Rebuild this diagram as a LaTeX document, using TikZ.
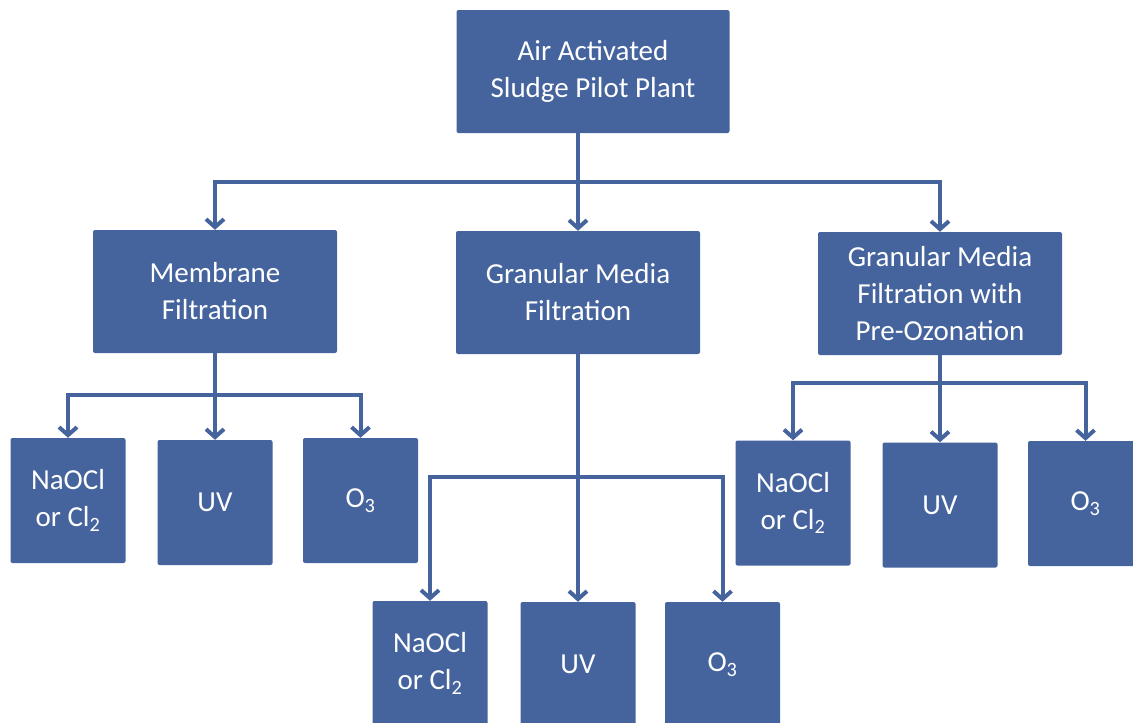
\documentclass[tikz,border=0pt]{standalone}
\usepackage{fontspec}
\setmainfont{Carlito}
\usetikzlibrary{arrows.meta}
\definecolor{boxblue}{RGB}{69,100,158}

\begin{document}
\begin{tikzpicture}[x=1pt,y=-1pt,
	box/.style={rectangle,fill=boxblue,text=white,rounded corners=2pt,
		align=center,inner sep=0pt,font=\fontsize{29}{37}\selectfont},
	link/.style={draw=boxblue,line width=4pt,
		-{Straight Barb[length=8pt,width=18pt]}}]
	\useasboundingbox (0,0) rectangle (1133,723);
	\clip (0,0) rectangle (1133,723);
	% Level 0
	\node (top) [box,minimum width=273,minimum height=123] at (593,71.5)
		{Air Activated\\Sludge Pilot Plant};
	% Level 1
	\begin{scope}[minimum width=244,minimum height=123]
	\node (m) [box] at (215,291.5) {Membrane\\Filtration};
	\node (g) [box] at (578,292.5) {Granular Media\\Filtration};
	\node (p) [box] at (940,293.5) {Granular Media\\Filtration with\\Pre-Ozonation};
	\end{scope}
	\coordinate (tj) at (578,182);
	\draw[draw=boxblue,line width=4pt] (top.south -| tj) -- (tj);
	\draw[link] (tj) -| (m.north);
	\draw[link] (tj) -- (g.north);
	\draw[link] (tj) -| (p.north);
	% Level 2
	\begin{scope}[minimum width=115,minimum height=125]
	\node (mcl) [box] at (68,500.5) {NaOCl\\or Cl\textsubscript{2}};
	\node (muv) [box] at (215,502.5) {UV};
	\node (mo3) [box] at (360.5,500.5) {O\textsubscript{3}};
	\node (gcl) [box] at (430,663.5) {NaOCl\\or Cl\textsubscript{2}};
	\node (guv) [box] at (578,664.5) {UV};
	\node (go3) [box] at (722.5,664.5) {O\textsubscript{3}};
	\node (pcl) [box] at (793,503) {NaOCl\\or Cl\textsubscript{2}};
	\node (puv) [box] at (940,505) {UV};
	\node (po3) [box] at (1085.5,503.5) {O\textsubscript{3}};
	\end{scope}
	\coordinate (mj) at (215,395);
	\draw[link] (m.south) -- (muv.north);
	\draw[link] (mj) -| (mcl.north);
	\draw[link] (mj) -| (mo3.north);
	\coordinate (gj) at (578,477);
	\draw[link] (g.south) -- (guv.north);
	\draw[link] (gj) -| (gcl.north);
	\draw[link] (gj) -| (go3.north);
	\coordinate (pj) at (940,383);
	\draw[link] (p.south) -- (puv.north);
	\draw[link] (pj) -| (pcl.north);
	\draw[link] (pj) -| (po3.north);
\end{tikzpicture}
\end{document}
